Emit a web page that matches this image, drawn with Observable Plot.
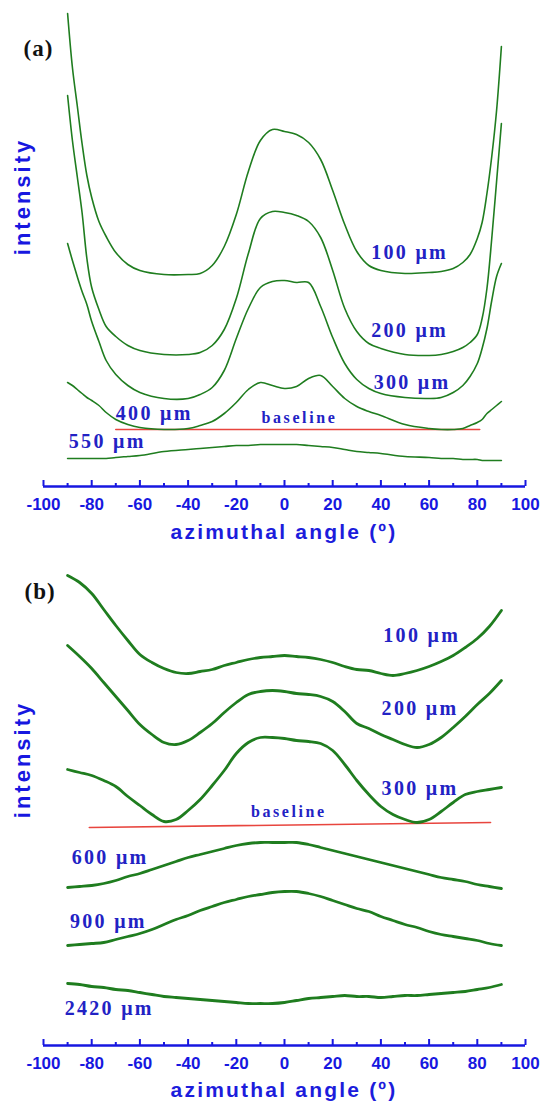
<!DOCTYPE html>
<html><head><meta charset="utf-8">
<script src="https://cdn.jsdelivr.net/npm/d3@7"></script>
<script src="https://cdn.jsdelivr.net/npm/@observablehq/plot@0.6"></script>
<style>
body{margin:0;background:#fff;width:541px;overflow:hidden;}
.xt{width:514px;padding-left:27px;text-align:center;font-family:"Liberation Sans",Arial,sans-serif;font-weight:bold;color:#1c1cdc;font-size:21px;letter-spacing:2.2px;white-space:nowrap;}
svg{display:block;}
</style></head><body><div id="chart"></div>
<script>
// ---------- Panel (a) ----------
const angleA = [-90,-88,-86,-84,-82,-80,-77,-74,-70,-65,-60,-50,-40,-35,-30,-25,-20,-15,-10,-5,0,5,10,15,20,25,30,35,40,50,60,65,70,74,77,80,82,84,86,88,90];
const a100 = [473,419,381,343,311,289,265,250,234,222,216,212,212,213,221,240,272,315,346,357,355,352,344,327,296,262,235,221,216,213,214,215,218,224,232,248,264,293,330,376,440];
const a200 = [391,346,310,274,228,199,177,160,150,141,136,132,132,134,141,157,188,233,268,275,274,271,265,249,216,178,155,143,138,132,131,132,135,139,144,152,168,198,248,305,363];
const a300 = [243,226,210,195,182,165,145,126,112,101,94,88,88,92,99,116,148,178,199,205,206,204,204,180,149,123,107,98,93,89,88,89,94,101,110,123,138,158,186,210,223];
const a400 = [104,101,97,93,89,86,81,74,67,62,59,57,58,61,65,73,84,97,104,101,98,100,108,111,100,88,80,75,71,62,58,57,57,58,61,64,67,73,77,81,85];
const a550 = [28,28,28,28,28,28,28,28,29,30,31,35,37,38,39,40,41,41,42,42,42,42,41,40,39,37,35,34,33,30,29,28,28,27,27,27,26,26,26,26,26];
const seriesA = ["100 μm","200 μm","300 μm","400 μm","550 μm"];
const valuesA = [a100,a200,a300,a400,a550];
const labelXA = [36, 36, 37, -70, -89.5];
const labelYA = [234, 156, 104, 73, 45];
const baseXA = [-70, 81];
const baseYA = [57, 57];
const baseLabelA = {x: 6.2, y: 69};

// ---------- Panel (b) ----------
const angleB = [-90,-85,-80,-75,-70,-65,-60,-55,-50,-45,-40,-35,-30,-25,-20,-15,-10,-5,0,5,10,15,20,25,30,35,40,45,50,55,60,65,70,75,80,85,90];
const b100 = [470,463,452,436,420,405,391,383,377,373,372,374,376,380,383,386,388,389,390,389,388,386,383,379,376,375,372,370,372,375,379,384,390,398,407,419,435];
const b200 = [400,389,377,363,349,335,321,311,303,301,305,313,322,333,343,351,354,355,354,352,351,349,344,334,322,317,311,306,301,298,301,308,318,329,341,352,365];
const b300 = [276,273,270,265,259,249,240,231,224,226,235,246,260,275,292,303,308,308,307,305,304,302,295,281,265,251,239,231,226,223,226,234,243,251,254,256,258];
const b600 = [158,159,160,162,165,169,172,176,180,184,188,191,194,197,200,202,203,203,203,203,201,198,195,192,189,186,183,180,177,174,171,168,166,164,161,159,157];
const b900 = [100,101,102,103,106,109,112,116,121,126,130,135,139,143,146,149,151,153,154,154,152,149,145,141,137,134,129,125,121,118,114,111,109,107,105,102,100];
const b2420 = [62,61,59,58,56,55,53,51,49,48,47,46,45,44,43,42,42,42,43,45,47,48,49,50,49,49,48,49,50,50,51,52,53,54,56,58,61];
const seriesB = ["100 μm","200 μm","300 μm","600 μm","900 μm","2420 μm"];
const valuesB = [b100,b200,b300,b600,b900,b2420];
const labelXB = [41, 40.3, 40.3, -88.3, -89, -91.2];
const labelYB = [410, 337, 257, 188, 124, 37];
const baseXB = [-81, 85.5];
const baseYB = [218, 223];
const baseLabelB = {x: 1.8, y: 234};

// ---------- Axis ----------
const majorTicks = [-100,-80,-60,-40,-20,0,20,40,60,80,100];
const minorTicks = [-90,-70,-50,-30,-10,10,30,50,70,90];
const xTitle = "azimuthal angle (º)";
const yTitle = "intensity";

const GREEN = "#1f7d1f";
const AXIS = "#1717e0";
const LBL = "#2222c4";
const RED = "#e8453e";
const SANS = "Liberation Sans, Arial, sans-serif";
const SERIF = "Liberation Serif, Times New Roman, serif";

function longData(angles, series, values) {
  const out = [];
  series.forEach((s, i) => angles.forEach((a, j) => out.push({series: s, angle: a, v: values[i][j]})));
  return out;
}

function panel({tag, angles, series, values, labelX, labelY, baseX, baseY, baseLabel, height, marginTop, strokeWidth, tagDx, tagDy, yDy}) {
  const data = longData(angles, series, values);
  const labels = series.map((s, i) => ({text: s, x: labelX[i], y: labelY[i]}));
  const base = baseX.map((x, i) => ({x, y: baseY[i]}));
  const svg = Plot.plot({
    width: 541, height,
    marginLeft: 43, marginRight: 16, marginTop, marginBottom: 27,
    x: {domain: [-100, 100], label: null},
    y: {domain: [0, 480], axis: null},
    marks: [
      Plot.line(base, {x: "x", y: "y", stroke: RED, strokeWidth: 1.6}),
      Plot.line(data, {x: "angle", y: "v", z: "series", stroke: GREEN, strokeWidth, curve: "catmull-rom"}),
      Plot.text(labels, {x: "x", y: "y", text: "text", textAnchor: "start", fill: LBL, fontFamily: SERIF, fontWeight: "bold", fontSize: 20}),
      Plot.text([baseLabel], {x: "x", y: "y", text: () => "baseline", textAnchor: "middle", fill: LBL, fontFamily: SERIF, fontWeight: "bold", fontSize: 16}),
      Plot.text([tag], {text: d => d, frameAnchor: "top-left", dx: tagDx, dy: tagDy, textAnchor: "start", fill: "#111", fontFamily: SERIF, fontWeight: "bold", fontSize: 23}),
      Plot.text([yTitle], {text: d => d, frameAnchor: "left", rotate: -90, dx: -21, dy: yDy, textAnchor: "middle", fill: AXIS, fontFamily: SANS, fontWeight: "bold", fontSize: 22}),
      Plot.ruleY([0], {stroke: AXIS, strokeWidth: 2.6}),
      Plot.axisX({ticks: majorTicks, tickSize: -6, tickFormat: () => "", stroke: AXIS, strokeWidth: 2, label: null}),
      Plot.axisX({ticks: minorTicks, tickSize: -3, tickFormat: () => "", stroke: AXIS, strokeWidth: 2, label: null}),
      Plot.axisX({ticks: majorTicks, tickSize: 0, tickPadding: 11, tickFormat: d => String(d), fill: AXIS, fontSize: 17, fontWeight: "bold", fontFamily: SANS, label: null})
    ]
  });
  const LS = {"20": "2.3px", "16": "2.6px", "22": "3px", "23": "1px"};
  svg.querySelectorAll("g").forEach(g => {
    const fs = g.getAttribute("font-size");
    if (fs && LS[fs]) g.style.letterSpacing = LS[fs];
  });
  return svg;
}

const root = document.getElementById("chart");
root.appendChild(panel({tag: "(a)", angles: angleA, series: seriesA, values: valuesA, labelX: labelXA, labelY: labelYA,
  baseX: baseXA, baseY: baseYA, baseLabel: baseLabelA, height: 513, marginTop: 6, strokeWidth: 1.6, tagDx: -20, tagDy: 33, yDy: -50}));
const t1 = document.createElement("div"); t1.className = "xt"; t1.style.height = "37px"; t1.style.lineHeight = "37px"; t1.textContent = xTitle;
root.appendChild(t1);
root.appendChild(panel({tag: "(b)", angles: angleB, series: seriesB, values: valuesB, labelX: labelXB, labelY: labelYB,
  baseX: baseXB, baseY: baseYB, baseLabel: baseLabelB, height: 522, marginTop: 15, strokeWidth: 2.8, tagDx: -19, tagDy: 17, yDy: -46}));
const t2 = document.createElement("div"); t2.className = "xt"; t2.style.height = "36px"; t2.style.lineHeight = "36px"; t2.textContent = xTitle;
root.appendChild(t2);
</script></body></html>
